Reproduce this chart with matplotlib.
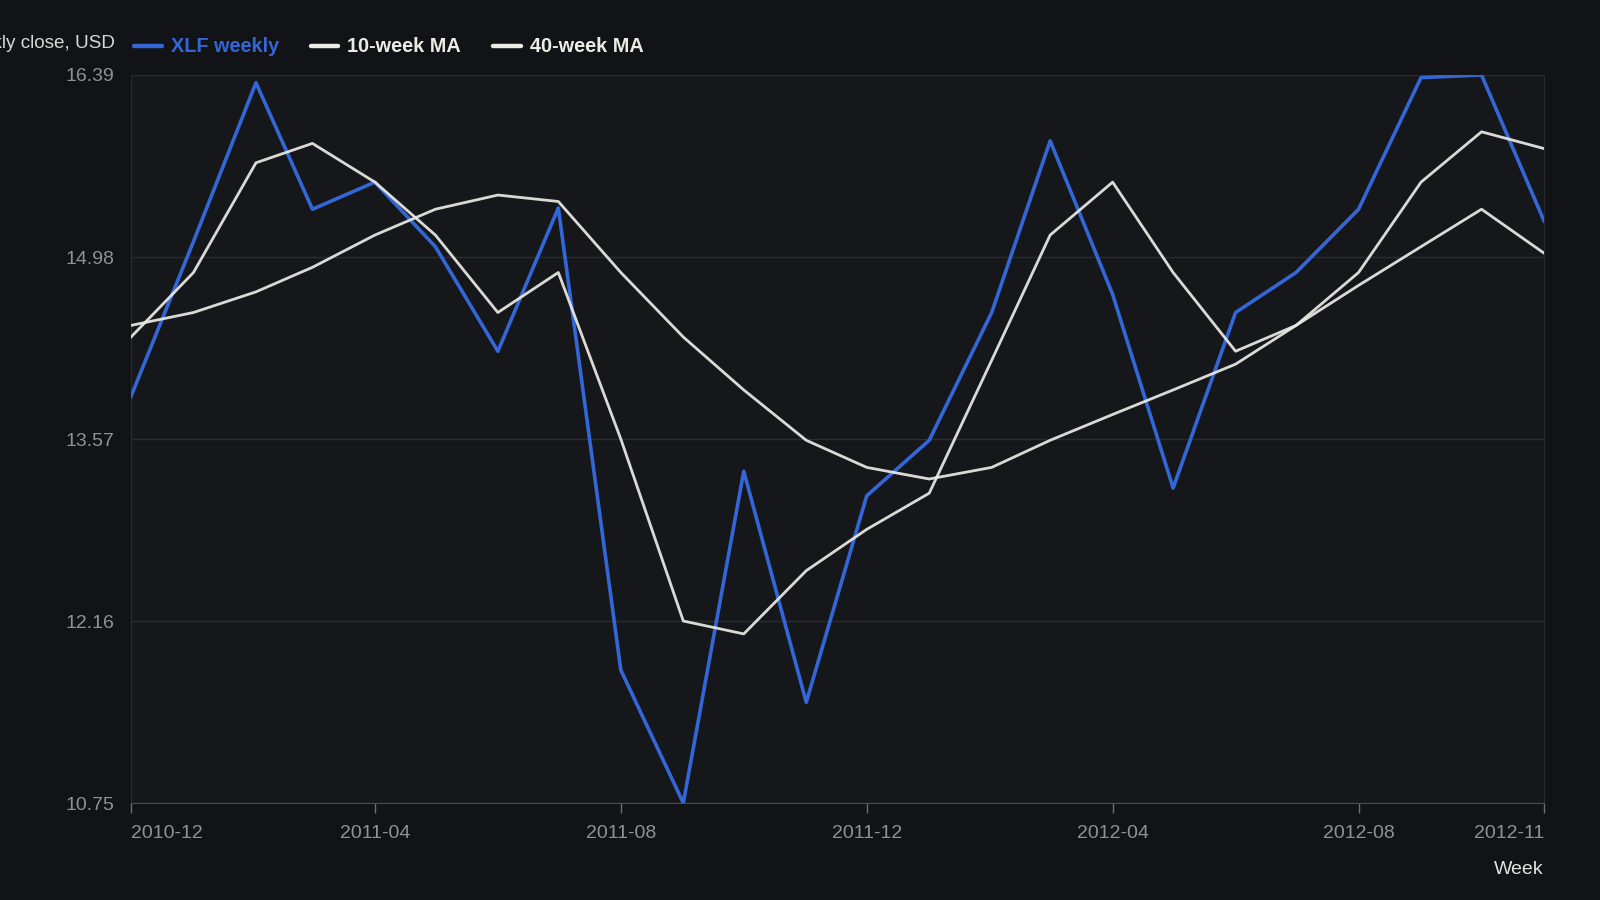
import numpy as np
import pandas as pd
import matplotlib
matplotlib.use("Agg")
import matplotlib.pyplot as plt
import matplotlib.dates as mdates

plt.rcParams['font.family'] = ['Liberation Sans', 'DejaVu Sans']

# monthly sample of weekly closes
weeks = pd.date_range('2010-12-01', periods=24, freq='MS')
xlf_weekly = [13.90, 15.10, 16.33, 15.35, 15.56, 15.06, 14.25, 15.36, 11.78, 10.75,
              13.32, 11.53, 13.13, 13.56, 14.55, 15.88, 14.69, 13.19, 14.55, 14.86,
              15.35, 16.37, 16.39, 15.26]
ma_10 = [14.36, 14.86, 15.71, 15.86, 15.56, 15.15, 14.55, 14.86, 13.57, 12.16,
         12.06, 12.55, 12.87, 13.15, 14.18, 15.15, 15.56, 14.86, 14.25, 14.45,
         14.86, 15.56, 15.95, 15.82]
ma_40 = [14.45, 14.55, 14.71, 14.90, 15.15, 15.35, 15.46, 15.41, 14.86, 14.36,
         13.95, 13.56, 13.35, 13.26, 13.35, 13.56, 13.76, 13.95, 14.15, 14.45,
         14.76, 15.06, 15.35, 15.01]

y_ticks = [10.75, 12.16, 13.57, 14.98, 16.39]
x_ticks = ['2010-12-01', '2011-04-01', '2011-08-01', '2011-12-01',
           '2012-04-01', '2012-08-01', '2012-11-01']

bg = '#121316'
panel = '#16171b'
blue = '#3366d6'
white = '#ecebe6'
tick_col = '#8f9198'

fig = plt.figure(figsize=(16, 9), dpi=100, facecolor=bg)
ax = fig.add_axes([131/1600, 1 - 803/900, (1544 - 131)/1600, (803 - 75)/900])
ax.set_facecolor(panel)

ax.plot(weeks, xlf_weekly, color=blue, lw=2.6, label='XLF weekly', zorder=3)
ax.plot(weeks, ma_10, color=white, lw=2.0, alpha=0.92, label='10-week MA', zorder=4)
ax.plot(weeks, ma_40, color=white, lw=2.0, alpha=0.92, label='40-week MA', zorder=4)

ax.set_ylim(y_ticks[0], y_ticks[-1])
ax.set_yticks(y_ticks)
ax.set_yticklabels(['%.2f' % v for v in y_ticks])
ax.set_xlim(weeks[0], weeks[-1])
ax.set_xticks(pd.to_datetime(x_ticks))
ax.xaxis.set_major_formatter(mdates.DateFormatter('%Y-%m'))

ax.grid(axis='y', color='#2a2c31', lw=1)
ax.grid(axis='x', visible=False)
for side in ['top', 'right', 'left']:
    ax.spines[side].set_color('#2a2c31')
ax.spines['bottom'].set_color('#4a4c52')

ax.tick_params(axis='y', length=0, pad=12, labelsize=14, labelcolor=tick_col)
ax.tick_params(axis='x', length=7, width=1, color='#6a6c72', pad=9,
               labelsize=14, labelcolor=tick_col)
labels = ax.get_xticklabels()
labels[0].set_horizontalalignment('left')
labels[-1].set_horizontalalignment('right')

fig.text(115/1600, 1 - 44/900, 'Weekly close, USD', ha='right', va='center',
         fontsize=13.6, color='#d8d8d8')
fig.text(1544/1600, 1 - 869/900, 'Week', ha='right', va='center',
         fontsize=14, color='#e2e2e2')

leg = fig.legend(loc='center left', bbox_to_anchor=(134/1600, 1 - 47/900), ncol=3,
                 frameon=False, fontsize=14.3, handlelength=1.4, handletextpad=0.45,
                 columnspacing=1.6, borderaxespad=0, borderpad=0)
for line in leg.get_lines():
    line.set_linewidth(3.2)
    line.set_alpha(1)
    line.set_solid_capstyle('round')
for txt, col in zip(leg.get_texts(), [blue, white, white]):
    txt.set_color(col)
    txt.set_fontweight('bold')

fig.savefig('out.png', dpi=100, facecolor=bg)
